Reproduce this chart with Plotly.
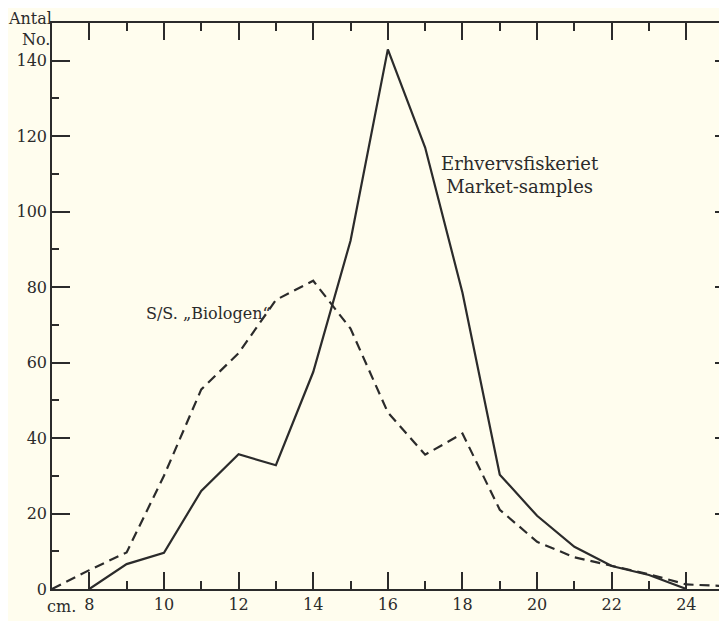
import plotly.graph_objects as go

# Length classes (cm)
market_x = [8, 9, 10, 11, 12, 13, 14, 15, 16, 17, 18, 19, 20, 21, 22, 23, 24]
market_y = [0, 6.6, 9.6, 26, 35.7, 32.8, 57.5, 92.3, 143, 117, 78.5, 30.3, 19.4, 11.2, 6.1, 3.7, 0]

biologen_x = [7, 8, 9, 10, 11, 12, 13, 14, 15, 16, 17, 18, 19, 20, 21, 22, 23, 24, 25]
biologen_y = [0, 5, 9.7, 30, 52.9, 62.5, 76.6, 81.7, 69, 46.8, 35.6, 41.2, 21, 12.5, 8.4, 6.1, 3.9, 1.2, 0.8]

x_ticks = [8, 10, 12, 14, 16, 18, 20, 22, 24]
x_ticktext = ["8", "10", "12", "14", "16", "18", "20", "22", "24"]
y_ticks = [0, 20, 40, 60, 80, 100, 120, 140]
y_ticktext = ["0", "20", "40", "60", "80", "100", "120", "140"]

ink = "#2b2b2b"
bg = "#fffdee"
font_family = "DejaVu Serif, Liberation Serif, serif"

fig = go.Figure()
fig.add_trace(go.Scatter(x=market_x, y=market_y, mode="lines",
                         line=dict(color=ink, width=2.2), showlegend=False))
fig.add_trace(go.Scatter(x=biologen_x, y=biologen_y, mode="lines",
                         line=dict(color=ink, width=2.2, dash="10px,6px"), showlegend=False))

fig.add_annotation(x=11.2, y=73, text="S/S. „Biologen“", showarrow=False,
                   font=dict(size=16, color=ink, family=font_family))
fig.add_annotation(x=19.53, y=109.7, text="Erhvervsfiskeriet<br>Market-samples", showarrow=False,
                   font=dict(size=18, color=ink, family=font_family), align="center")
fig.add_annotation(xref="paper", x=0, xanchor="right", xshift=2, yref="paper", y=1,
                   yanchor="middle", yshift=5,
                   text="Antal", showarrow=False, font=dict(size=16, color=ink, family=font_family))
fig.add_annotation(xref="paper", x=0, xanchor="right", xshift=0, yref="paper", y=1,
                   yanchor="middle", yshift=-16,
                   text="No.", showarrow=False, font=dict(size=16, color=ink, family=font_family))
fig.add_annotation(x=8, y=0, xanchor="right", xshift=-11, yanchor="middle", yshift=-17,
                   text="cm.", showarrow=False, font=dict(size=16, color=ink, family=font_family))

fig.update_xaxes(range=[7, 25.25], tickvals=x_ticks, ticktext=x_ticktext,
                 ticks="inside", ticklen=17, tickwidth=1.5, tickcolor=ink,
                 showline=True, linecolor=ink, linewidth=1.5, mirror="ticks",
                 showgrid=False, zeroline=False,
                 minor=dict(dtick=1, tick0=7, ticks="inside", ticklen=8, tickwidth=1.5, tickcolor=ink, showgrid=False),
                 tickfont=dict(size=16, color=ink, family=font_family))
fig.update_yaxes(range=[0, 150], tickvals=y_ticks, ticktext=y_ticktext,
                 ticks="inside", ticklen=18, tickwidth=1.5, tickcolor=ink,
                 showline=True, linecolor=ink, linewidth=1.5, mirror="ticks",
                 showgrid=False, zeroline=False,
                 minor=dict(dtick=10, tick0=0, ticks="inside", ticklen=7, tickwidth=1.5, tickcolor=ink, showgrid=False),
                 tickfont=dict(size=16, color=ink, family=font_family))

# The page body has an 8px margin, so margins are offset to place the plot area as in the reference
fig.update_layout(width=727, height=621, margin=dict(l=44, r=0, t=15, b=40),
                  paper_bgcolor=bg, plot_bgcolor=bg)

fig.write_html("out.html")
